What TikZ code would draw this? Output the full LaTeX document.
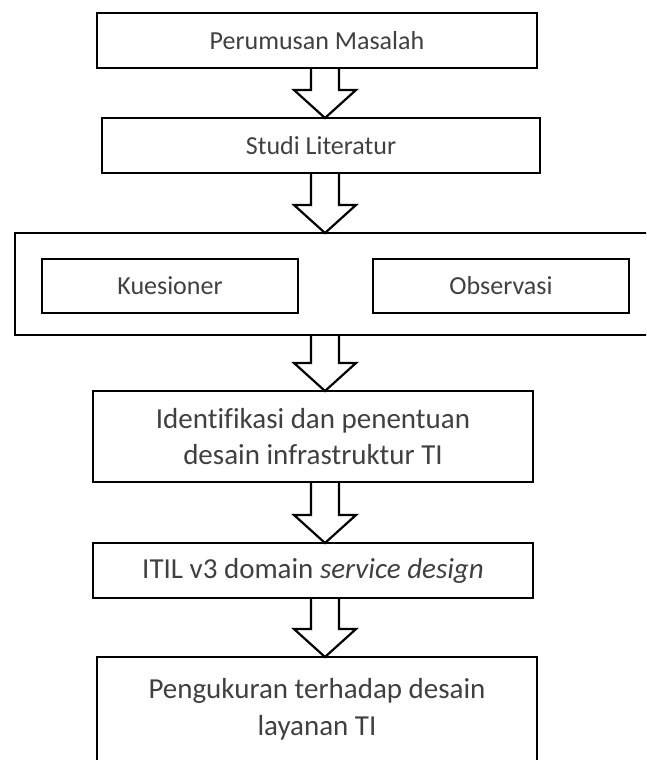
\documentclass[tikz,border=0pt]{standalone}
\usepackage{fontspec}
\setmainfont[Ligatures=NoCommon]{Carlito}
\usetikzlibrary{calc}

\newcommand{\flowarrow}[2]{%
  \draw[blockarr] let \p1=(#1.south -| ax), \p2=(#2.north -| ax) in
    (\x1-14pt,\y1) -- (\x1-14pt,\y2+28pt) -- (\x1-31pt,\y2+28pt) -- (\x2,\y2)
    -- (\x1+31pt,\y2+28pt) -- (\x1+14pt,\y2+28pt) -- (\x1+14pt,\y1);}

\begin{document}
\begin{tikzpicture}[x=1pt, y=-1pt,
            box/.style={rectangle, draw=black, line width=2.6pt, outer sep=0pt,
                        inner sep=0pt, text=black!75, align=center,
                        font=\fontsize{26}{31}\selectfont},
            bigtext/.style={box, font=\fontsize{29}{36.5}\selectfont},
            blockarr/.style={draw=black, line width=2.2pt, line join=miter}]
          \useasboundingbox (0,0) rectangle (646,760);
          \clip (0,0) rectangle (646,760);
          \coordinate (ax) at (325,0);
          \node[box, minimum width=440pt, minimum height=55pt] (rumusan) at (317,40.5) {Perumusan Masalah};
          \node[box, minimum width=438pt, minimum height=55pt] (studi) at (321,145.5) {Studi Literatur};
          \node[box, minimum width=660pt, minimum height=102pt] (data) at (345,284) {};
          \node[box, minimum width=256pt, minimum height=54pt] (kuesioner) at (170,286) {Kuesioner};
          \node[box, minimum width=256pt, minimum height=54pt] (observasi) at (501,286) {Observasi};
          \node[bigtext, minimum width=440pt, minimum height=91pt] (identifikasi) at (313,436.5)
            {Identifikasi dan penentuan\\desain infrastruktur TI};
          \node[bigtext, minimum width=440pt, minimum height=55pt] (itil) at (313,570.5)
            {ITIL v3 domain \textit{service design}};
          \node[bigtext, minimum width=440pt, minimum height=105pt] (ukur) at (317,709.5)
            {Pengukuran terhadap desain\\layanan TI};
          \flowarrow{rumusan}{studi}
          \flowarrow{studi}{data}
          \flowarrow{data}{identifikasi}
          \flowarrow{identifikasi}{itil}
          \flowarrow{itil}{ukur}
        \end{tikzpicture}
\end{document}
